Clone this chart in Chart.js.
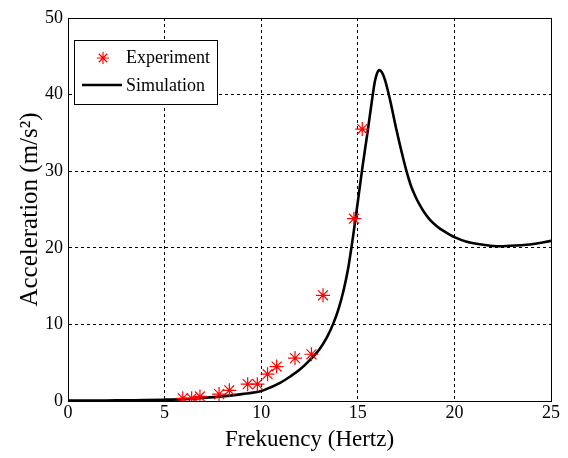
<!DOCTYPE html>
<html><head><meta charset="utf-8">
<script src="https://cdn.jsdelivr.net/npm/chart.js@4"></script>
<style>html,body{margin:0;padding:0;background:#fff}#wrap{width:568px;height:458px}</style>
</head><body><div id="wrap"><canvas id="c" width="568" height="458"></canvas></div>
<script>
const expX = [5.94, 6.4, 6.83, 7.82, 8.35, 9.3, 9.8, 10.33, 10.8, 11.75, 12.6, 13.2, 14.8, 15.23];
const expY = [0.35, 0.35, 0.6, 0.9, 1.4, 2.2, 2.2, 3.5, 4.5, 5.6, 6.1, 13.8, 23.8, 35.5];
const simX = [0, 1, 2, 3, 4, 5, 6, 7, 8, 9, 10, 10.5, 11, 11.5, 12, 12.5, 13, 13.4, 13.73, 14.0, 14.25, 14.5, 14.75, 15.0, 15.25, 15.5, 15.72, 15.89, 16.0, 16.11, 16.25, 16.41, 16.67, 17.0, 17.25, 17.5, 17.75, 18.0, 18.25, 18.5, 18.75, 19.0, 19.25, 19.5, 19.77, 20.0, 20.64, 21.5, 22.36, 23.2, 24.08, 25];
const simY = [0.05, 0.05, 0.07, 0.1, 0.12, 0.17, 0.25, 0.4, 0.6, 0.9, 1.3, 1.8, 2.4, 3.2, 4.1, 5.3, 6.7, 8.3, 10.1, 12.0, 14.3, 17.3, 21.4, 26.0, 30.7, 35.0, 39.0, 41.8, 42.8, 43.2, 42.9, 41.9, 39.3, 35.4, 32.7, 30.2, 28.1, 26.6, 25.4, 24.4, 23.6, 23.0, 22.5, 22.1, 21.7, 21.4, 20.8, 20.4, 20.2, 20.3, 20.5, 20.9];
const xTicks = [0, 5, 10, 15, 20, 25];
const yTicks = [0, 10, 20, 30, 40, 50];
const labels = ['Experiment', 'Simulation'];

const serif = '"Liberation Serif", "Times New Roman", serif';

const boxPlugin = {
  id: 'boxAndLegend',
  afterDraw(chart) {
    const {ctx, chartArea: a} = chart;
    ctx.save();
    ctx.strokeStyle = '#000';
    ctx.lineWidth = 1;
    ctx.setLineDash([]);
    ctx.strokeRect(a.left + 0.5, a.top + 0.5, a.right - a.left, a.bottom - a.top);
    // legend box
    const lx = 74, ly = 40, lw = 143, lh = 64;
    ctx.fillStyle = '#fff';
    ctx.fillRect(lx, ly, lw, lh);
    ctx.strokeRect(lx + 0.5, ly + 0.5, lw, lh);
    // star marker
    const sx = 103, sy = 58, r = 6;
    ctx.strokeStyle = 'red';
    ctx.lineWidth = 1.2;
    ctx.beginPath();
    for (let k = 0; k < 4; k++) {
      const ang = k * Math.PI / 4;
      ctx.moveTo(sx - r * Math.cos(ang), sy - r * Math.sin(ang));
      ctx.lineTo(sx + r * Math.cos(ang), sy + r * Math.sin(ang));
    }
    ctx.stroke();
    // line sample
    ctx.strokeStyle = '#000';
    ctx.lineWidth = 2.5;
    ctx.beginPath();
    ctx.moveTo(82, 85); ctx.lineTo(122, 85);
    ctx.stroke();
    ctx.fillStyle = '#000';
    ctx.font = '18px ' + serif;
    ctx.textBaseline = 'middle';
    ctx.textAlign = 'left';
    ctx.fillText(labels[0], 126, 58);
    ctx.fillText(labels[1], 126, 86);
    ctx.restore();
  }
};

new Chart(document.getElementById('c'), {
  type: 'scatter',
  data: {
    datasets: [
      {
        label: labels[0],
        data: expX.map((x, i) => ({x, y: expY[i]})),
        pointStyle: 'star',
        pointRadius: 7,
        pointBorderColor: 'red',
        pointBackgroundColor: 'red',
        pointBorderWidth: 1.2,
        showLine: false,
        order: 0
      },
      {
        label: labels[1],
        data: simX.map((x, i) => ({x, y: simY[i]})),
        showLine: true,
        borderColor: '#000',
        borderWidth: 2.6,
        pointRadius: 0,
        cubicInterpolationMode: 'monotone',
        order: 1
      }
    ]
  },
  options: {
    responsive: false,
    animation: false,
    devicePixelRatio: 1,
    layout: {padding: {top: 18, right: 17, left: 0, bottom: 0}},
    plugins: {legend: {display: false}, tooltip: {enabled: false}},
    scales: {
      x: {
        type: 'linear', min: 0, max: 25,
        afterBuildTicks(s) { s.ticks = xTicks.map(v => ({value: v})); },
        afterFit(s) { s.height = 57; },
        grid: {color: '#000', lineWidth: 1, drawTicks: false},
        border: {display: true, color: '#000', dash: [3, 3]},
        ticks: {color: '#000', font: {family: serif, size: 18}, padding: 1, maxRotation: 0},
        title: {display: true, text: 'Frekuency (Hertz)', color: '#000', font: {family: serif, size: 23}, padding: {top: 0, bottom: 4}}
      },
      y: {
        type: 'linear', min: 0, max: 50,
        afterBuildTicks(s) { s.ticks = yTicks.map(v => ({value: v})); },
        afterFit(s) { s.width = 68; },
        grid: {color: '#000', lineWidth: 1, drawTicks: false},
        border: {display: true, color: '#000', dash: [3, 3]},
        ticks: {color: '#000', font: {family: serif, size: 18}, padding: 5},
        title: {display: true, text: 'Acceleration (m/s\u00B2)', color: '#000', font: {family: serif, size: 25}, padding: {top: 15, bottom: 0}}
      }
    }
  },
  plugins: [boxPlugin]
});
</script></body></html>
